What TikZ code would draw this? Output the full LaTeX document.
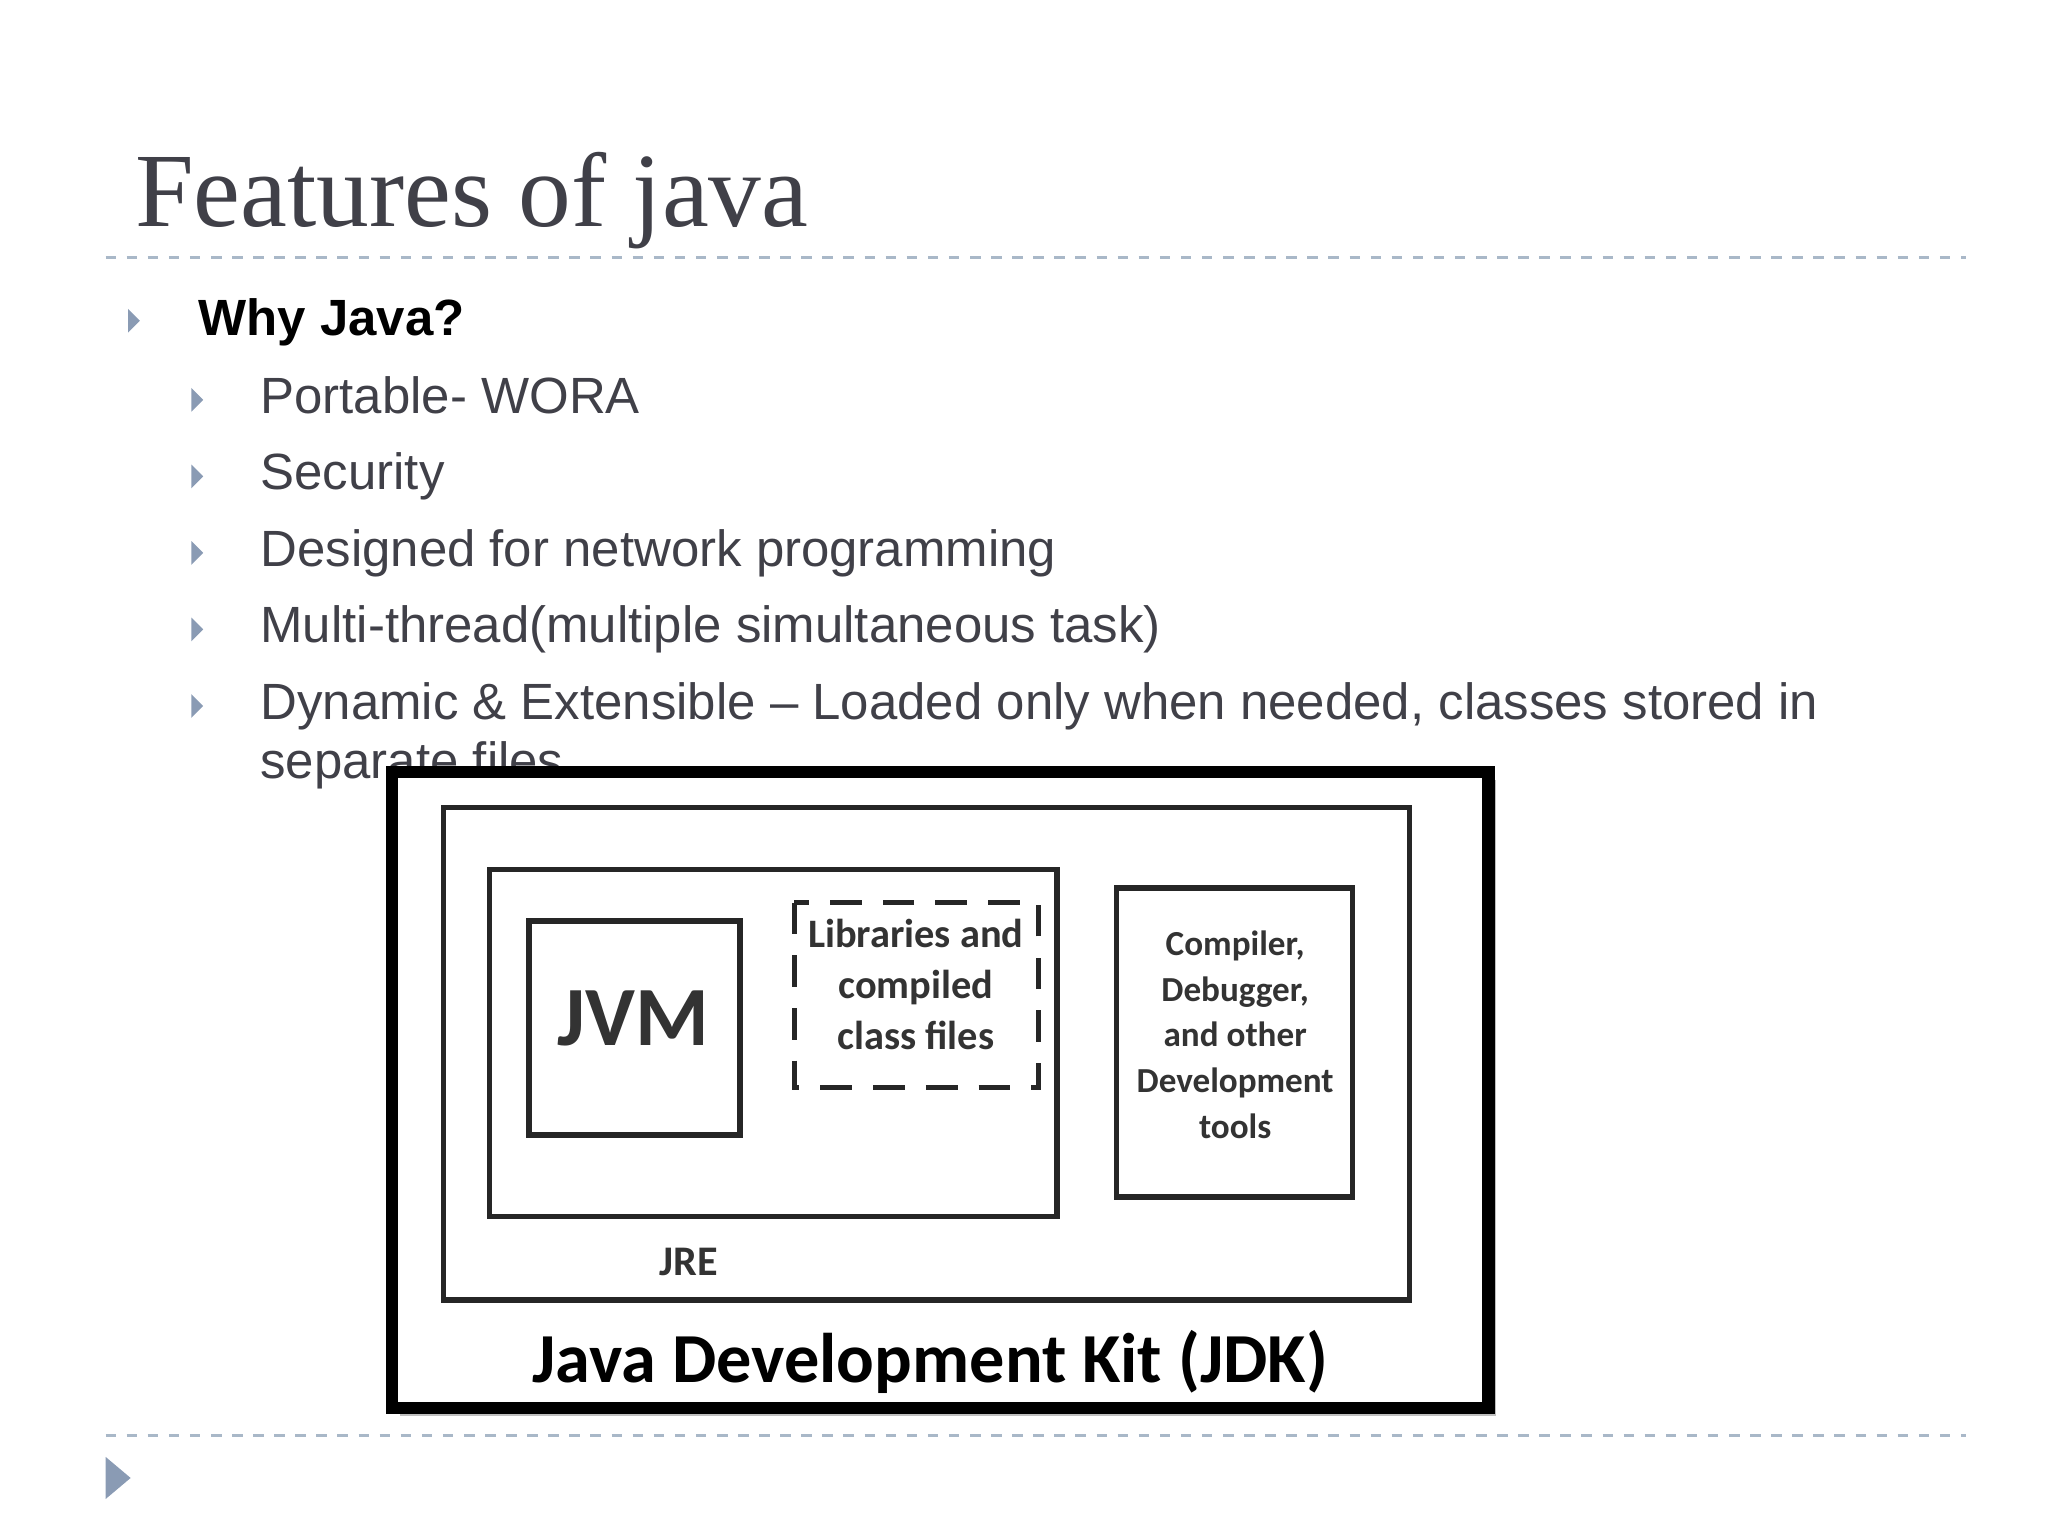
\documentclass[tikz,border=0pt]{standalone}
\usepackage{fontspec}
\setmainfont{Liberation Sans}
\newfontfamily\titlefont{Liberation Serif}
\newfontfamily\calfont{Carlito}
\definecolor{txt}{HTML}{404048}
\definecolor{tri}{HTML}{8A9BB4}
\definecolor{dl}{HTML}{A9B8C8}
\begin{document}
\begin{tikzpicture}[x=0.0132cm,y=-0.0132cm,
  bul/.style={anchor=base west,text=txt,font=\fontsize{14.5}{17}\selectfont},
  tr/.style={fill=tri,draw=none},
  box/.style={draw=black!85,line width=1.6pt,fill=white},
  lbl/.style={font=\calfont\bfseries,text=black!80,align=center}]
\useasboundingbox (0,0) rectangle (1552,1164);
\node[anchor=base west,text=txt,font=\titlefont\fontsize{30}{34}\selectfont] (title) at (93,172) {Features of java};
\draw[dl,dashed,line width=0.8pt] (80,195) -- (1490,195);
\draw[dl,dashed,line width=0.8pt] (80,1088) -- (1490,1088);
\fill[tr] (97,234) -- (106,243) -- (97,252) -- cycle;
\node[bul,text=black,font=\bfseries\fontsize{14.5}{17}\selectfont] (why) at (141,254) {Why Java?};
\foreach \y/\t in {313/Portable- WORA,371/Security,429/Designed for network programming,487/Multi-thread(multiple simultaneous task),545/Dynamic \& Extensible -- Loaded only when needed{,} classes stored in}{
  \fill[tr] (145,\y-19) -- (154,\y-10) -- (145,\y-1) -- cycle;
  \node[bul] at (188,\y) {\t};
}
\node[bul] (sep) at (188,590) {separate files};
\fill[tri] (80,1104) -- (99,1120) -- (80,1136) -- cycle;
% diagram
\fill[black!25] (303,591) rectangle (1134,1073);
\draw[black,line width=3.5pt,fill=white] (297,585) rectangle (1128,1067);
\draw[box] (336,612) rectangle (1068,985);
\draw[box] (371,659) rectangle (801,922);
\draw[box] (401,698) rectangle (561,860);
\draw[black!85,line width=1.6pt,dashed,dash pattern=on 9pt off 6pt] (602,684) rectangle (787,824);
\draw[box] (846,673) rectangle (1025,907);
\node[lbl,font=\calfont\bfseries\fontsize{24}{26}\selectfont] (jvm) at (480,772) {JVM};
\node[lbl,font=\calfont\bfseries\fontsize{11.5}{14.5}\selectfont] (lib) at (694,746) {Libraries and\\compiled\\class files};
\node[lbl,font=\calfont\bfseries\fontsize{10}{13}\selectfont] (tools) at (936,784) {Compiler,\\Debugger,\\and other\\Development\\tools};
\node[lbl,font=\calfont\bfseries\fontsize{12}{14}\selectfont] (jre) at (522,956) {JRE};
\node[lbl,text=black,font=\calfont\bfseries\fontsize{20}{22}\selectfont] (jdk) at (705,1032) {Java Development Kit (JDK)};
\end{tikzpicture}
\end{document}
